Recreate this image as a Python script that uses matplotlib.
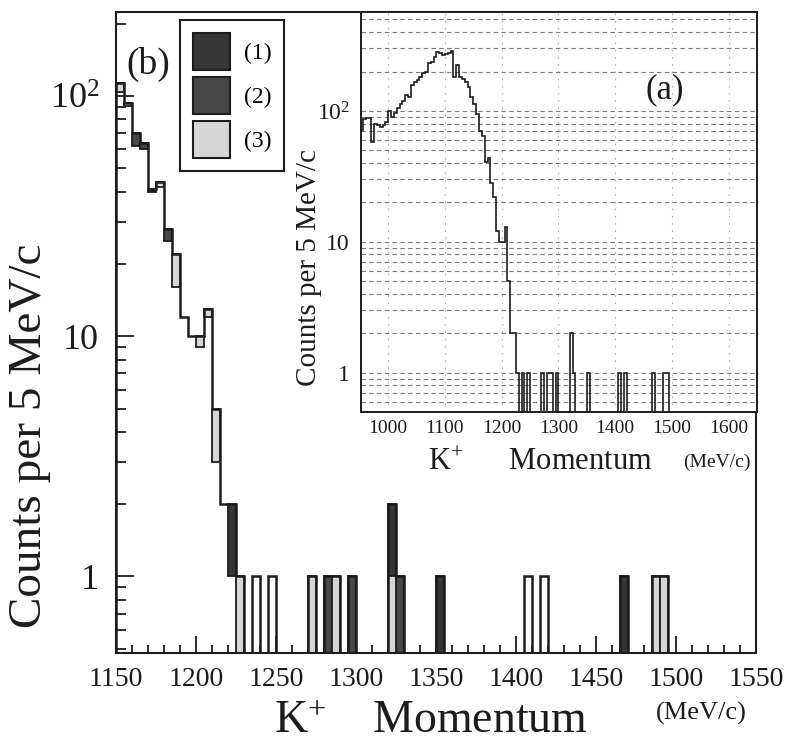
import numpy as np
import matplotlib
matplotlib.use("Agg")
import matplotlib.pyplot as plt
from matplotlib.patches import Patch
from matplotlib.ticker import FixedLocator, FixedFormatter, LogLocator, NullFormatter, MultipleLocator

plt.rcParams["font.family"] = "Liberation Serif"
plt.rcParams["mathtext.fontset"] = "custom"
plt.rcParams["mathtext.rm"] = "Liberation Serif"
plt.rcParams["mathtext.default"] = "regular"

# K+ momentum spectrum, counts per 5 MeV/c bin
bin_width = 5
full_start = 950
main_start = 1150

# 950 - 1145 MeV/c (inset only)
low_counts = [71, 86, 88, 88, 58, 80, 78, 76, 78, 82,
              99, 90, 96, 105, 112, 120, 132, 128, 158, 165,
              172, 183, 194, 200, 231, 238, 260, 284, 279, 268,
              273, 276, 286, 183, 224, 183, 176, 165, 152, 128]

# 1150 - 1495 MeV/c
counts = [113, 94, 70, 64, 41, 44, 28, 22, 12, 10,
          10, 13, 5, 2, 2, 1, 0, 1, 0, 1,
          0, 0, 0, 0, 1, 0, 1, 1, 0, 1,
          0, 0, 0, 0, 2, 1, 0, 0, 0, 0,
          1, 0, 0, 0, 0, 0, 0, 0, 0, 0,
          0, 1, 0, 1, 0, 0, 0, 0, 0, 0,
          0, 0, 0, 1, 0, 0, 0, 1, 1, 0]

# events of each class, stacked at the top of their bin
cls1_mom = [1170, 1220, 1320, 1350, 1465]
cls1_n = [1, 1, 1, 1, 1]
cls2_mom = [1160, 1165, 1180, 1280, 1295, 1325]
cls2_n = [8, 4, 3, 1, 1, 1]
cls3_mom = [1150, 1155, 1175, 1185, 1200, 1205, 1210, 1225, 1270, 1285, 1320, 1485, 1490]
cls3_n = [9, 3, 2, 6, 1, 1, 2, 1, 1, 1, 1, 1, 1]
class_labels = ["(1)", "(2)", "(3)"]

x_ticks = [1150, 1200, 1250, 1300, 1350, 1400, 1450, 1500, 1550]
x_ticklabels = ["1150", "1200", "1250", "1300", "1350", "1400", "1450", "1500", "1550"]
y_ticks = [1, 10, 100]
y_ticklabels = ["1", "10", "$10^{2}$"]
inset_x_ticks = [1000, 1100, 1200, 1300, 1400, 1500, 1600]
inset_x_ticklabels = ["1000", "1100", "1200", "1300", "1400", "1500", "1600"]

ink = "#1c1c1c"
cls_colors = ["#363636", "#474747", "#d6d6d6"]
floor = 1e-3

W, H = 785, 744


def fpos(x, y):
    return x / W, 1 - y / H


fig = plt.figure(figsize=(W / 100, H / 100), dpi=100)
ax = fig.add_axes([116 / W, 1 - 653 / H, 640 / W, 641 / H])
ins = fig.add_axes([361 / W, 1 - 412 / H, 396 / W, 400 / H])

# ---- main panel (b)
edges = main_start + bin_width * np.arange(len(counts) + 1)
tot = np.array(counts, dtype=float)
ax.set_yscale("log")

tops = dict(zip(edges[:-1].tolist(), counts))
for moms, ns, col in [(cls1_mom, cls1_n, cls_colors[0]),
                      (cls2_mom, cls2_n, cls_colors[1]),
                      (cls3_mom, cls3_n, cls_colors[2])]:
    for m, k in zip(moms, ns):
        hi = tops[m]
        lo = hi - k
        tops[m] = lo
        bot = max(lo, floor)
        ax.bar(m, hi - bot, bottom=bot, width=bin_width, align="edge",
               color=col, edgecolor=ink, linewidth=1.3, zorder=2)

ax.stairs(np.where(tot > 0, tot, floor), edges, baseline=floor,
          color=ink, linewidth=1.8, zorder=3)

ax.set_xlim(1150, 1550)
ax.set_ylim(0.48, 224)
ax.xaxis.set_major_locator(FixedLocator(x_ticks))
ax.xaxis.set_major_formatter(FixedFormatter(x_ticklabels))
ax.xaxis.set_minor_locator(MultipleLocator(10))
ax.yaxis.set_major_locator(FixedLocator(y_ticks))
ax.yaxis.set_major_formatter(FixedFormatter(y_ticklabels))
ax.yaxis.set_minor_locator(LogLocator(base=10, subs=np.arange(2, 10)))
ax.yaxis.set_minor_formatter(NullFormatter())
ax.tick_params(axis="both", which="both", direction="in", top=False, right=False,
               colors=ink, width=1.3)
ax.tick_params(axis="x", which="major", length=12, pad=10, labelsize=20)
ax.tick_params(axis="x", which="minor", length=6)
ax.tick_params(axis="y", which="major", length=13, pad=12, labelsize=26)
ax.tick_params(axis="y", which="minor", length=7)
for s in ax.spines.values():
    s.set_linewidth(1.5)
    s.set_color(ink)

handles = [Patch(facecolor=c, edgecolor=ink, linewidth=1.5) for c in cls_colors]
leg = ax.legend(handles, class_labels, loc="upper left", bbox_to_anchor=(0.1, 0.9875),
                borderaxespad=0, fontsize=17, handlelength=1.55, handleheight=2.03,
                labelspacing=0.3, handletextpad=0.6, borderpad=0.55,
                fancybox=False, framealpha=1, edgecolor=ink)
leg.get_frame().set_linewidth(1.5)

ax.text(0.05, 0.918, "(b)", transform=ax.transAxes, fontsize=27, color=ink,
        ha="center", va="center")

# ---- inset (a): full spectrum
all_counts = np.array(low_counts + counts, dtype=float)
full_edges = full_start + bin_width * np.arange(len(all_counts) + 1)
ins.set_yscale("log")
ins.stairs(np.where(all_counts > 0, all_counts, floor), full_edges, baseline=floor,
           color=ink, linewidth=1.2, zorder=3)
ins.set_xlim(952, 1650)
ins.set_ylim(0.5, 570)
ins.xaxis.set_major_locator(FixedLocator(inset_x_ticks))
ins.xaxis.set_major_formatter(FixedFormatter(inset_x_ticklabels))
ins.yaxis.set_major_locator(FixedLocator(y_ticks))
ins.yaxis.set_major_formatter(FixedFormatter(y_ticklabels))
ins.yaxis.set_minor_locator(LogLocator(base=10, subs=np.arange(2, 10)))
ins.yaxis.set_minor_formatter(NullFormatter())
ins.tick_params(axis="both", which="both", length=0, colors=ink)
ins.tick_params(axis="x", pad=6, labelsize=14)
ins.tick_params(axis="y", pad=8, labelsize=17)
ins.set_axisbelow(True)
ins.grid(axis="y", which="both", color="#7a7a7a", linewidth=0.8, dashes=(4, 3))
ins.grid(axis="x", which="major", color="#b0b0b0", linewidth=0.8, dashes=(1.5, 5))
for s in ins.spines.values():
    s.set_linewidth(1.4)
    s.set_color(ink)

# axis labels and panel tags
fig.text(*fpos(30, 436), "Counts per 5 MeV/c", rotation=90, ha="center", va="center",
         fontsize=34, color=ink)
fig.text(*fpos(431, 722), "K$^{+}$    Momentum", ha="center", va="center",
         fontsize=33, color=ink)
fig.text(*fpos(701, 713), "(MeV/c)", ha="center", va="center", fontsize=19, color=ink)
fig.text(*fpos(309, 268), "Counts per 5 MeV/c", rotation=90, ha="center", va="center",
         fontsize=21, color=ink)
fig.text(*fpos(540, 462), "K$^{+}$      Momentum", ha="center", va="center",
         fontsize=22, color=ink)
fig.text(*fpos(717, 462), "(MeV/c)", ha="center", va="center", fontsize=14, color=ink)
fig.text(*fpos(665, 90), "(a)", ha="center", va="center", fontsize=25, color=ink)

fig.savefig("out.png", dpi=100, facecolor="white")
